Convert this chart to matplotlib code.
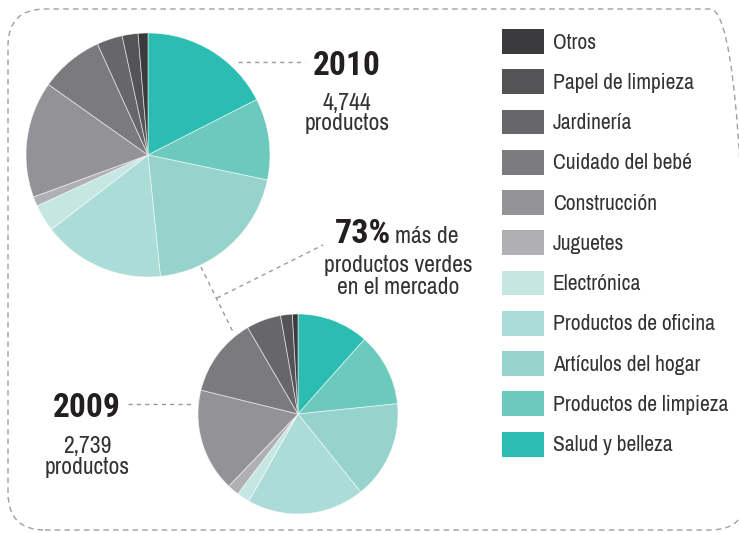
import matplotlib
matplotlib.use("Agg")
import matplotlib.pyplot as plt
from matplotlib.patches import FancyBboxPatch, Patch

W, H = 739, 533

categories = ["Salud y belleza", "Productos de limpieza", "Artículos del hogar",
              "Productos de oficina", "Electrónica", "Juguetes", "Construcción",
              "Cuidado del bebé", "Jardinería", "Papel de limpieza", "Otros"]
colors = ["#2bbdb1", "#6bc9be", "#95d3cc", "#acdcd8", "#c5e7e4", "#b0b0b4",
          "#939397", "#7b7b7f", "#67676b", "#545457", "#3b3b3d"]
share_2010 = [17.5, 10.8, 20.1, 16.2, 3.6, 1.25, 15.4, 8.4, 3.4, 2.1, 1.3]
share_2009 = [11.6, 11.8, 15.9, 19.0, 2.1, 1.9, 16.7, 12.8, 5.6, 1.9, 0.9]
total_2010 = "4,744"
total_2009 = "2,739"

FONT = ["Archivo Narrow", "Roboto Condensed", "DejaVu Sans"]
BOLD = ["Roboto Condensed", "Barlow Condensed", "DejaVu Sans"]
plt.rcParams['font.family'] = FONT

fig = plt.figure(figsize=(W / 100, H / 100), dpi=100)
ax = fig.add_axes([0, 0, 1, 1])

def Y(y):
    return H - y

wp = dict(edgecolor=(1, 1, 1, 0.6), linewidth=0.6)
ax.pie(share_2010, colors=colors, startangle=90, counterclock=False,
       center=(148, Y(155)), radius=122, wedgeprops=wp)
ax.pie(share_2009, colors=colors, startangle=90, counterclock=False,
       center=(298, Y(414)), radius=100, wedgeprops=wp)

ax.set_xlim(0, W)
ax.set_ylim(0, H)
ax.set_aspect('equal')
ax.axis('off')

# dashed rounded border
border = FancyBboxPatch((8, Y(530)), 739, 521,
                        boxstyle="round,pad=0,rounding_size=37",
                        fill=False, edgecolor="#a0a0a0", linewidth=1.0,
                        linestyle=(0, (4, 3)))
ax.add_patch(border)

lkw = dict(color="#9a9a9a", linewidth=1.0, linestyle=(0, (3, 3)))
ax.plot([238, 305], [Y(62), Y(62)], **lkw)
ax.plot([128, 193], [Y(404), Y(404)], **lkw)
ax.plot([201, 234], [Y(267), Y(334)], **lkw)
ax.plot([217, 323], [Y(298), Y(245)], **lkw)

dark = "#231f20"
txt = "#333333"
ax.text(347, Y(75), "2010", ha='center', va='baseline', fontsize=24,
        fontweight='bold', family=BOLD, color=dark)
ax.text(347, Y(110), total_2010, ha='center', va='baseline', fontsize=17, color=txt)
ax.text(347, Y(130), "productos", ha='center', va='baseline', fontsize=17, color=txt)

ax.text(87, Y(417), "2009", ha='center', va='baseline', fontsize=24,
        fontweight='bold', family=BOLD, color=dark)
ax.text(87, Y(453), total_2009, ha='center', va='baseline', fontsize=17, color=txt)
ax.text(87, Y(474), "productos", ha='center', va='baseline', fontsize=17, color=txt)

ax.text(335, Y(243), "73%", ha='left', va='baseline', fontsize=24.5,
        fontweight='bold', family=BOLD, color=dark)
ax.text(395, Y(243), "más de", ha='left', va='baseline', fontsize=17, color=txt)
ax.text(398, Y(272), "productos verdes", ha='center', va='baseline', fontsize=17, color=txt)
ax.text(398, Y(294), "en el mercado", ha='center', va='baseline', fontsize=17, color=txt)

handles = [Patch(facecolor=c, edgecolor='none') for c in colors][::-1]
labels = categories[::-1]
fs = 15.5
px = fs * 100 / 72
leg = fig.legend(handles, labels, loc='upper left',
                 bbox_to_anchor=(502 / W, 1 - 29 / H), frameon=False,
                 fontsize=fs, borderpad=0, borderaxespad=0,
                 handlelength=42 / px, handleheight=30 / px,
                 labelspacing=15.5 / px, handletextpad=9 / px)
for t in leg.get_texts():
    t.set_color(txt)

fig.savefig("out.png", dpi=100)
